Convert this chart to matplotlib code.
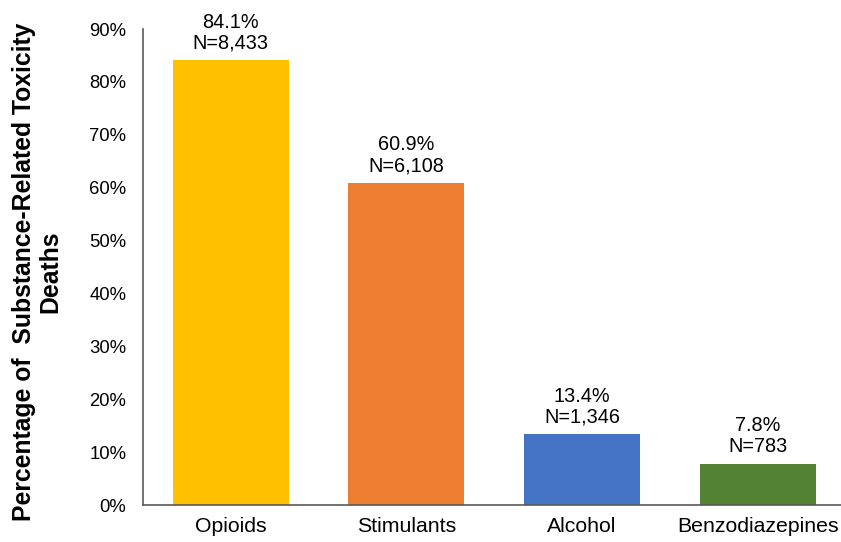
import matplotlib
matplotlib.use("Agg")
import matplotlib.pyplot as plt
from matplotlib.ticker import FuncFormatter

plt.rcParams['font.family'] = ['Liberation Sans', 'DejaVu Sans']

categories = ['Opioids', 'Stimulants', 'Alcohol', 'Benzodiazepines']
pct = [84.1, 60.9, 13.4, 7.8]
counts = ['8,433', '6,108', '1,346', '783']
colors = ['#FFC000', '#ED7D31', '#4472C4', '#548235']

fig = plt.figure(figsize=(8.41, 5.42), dpi=100)
ax = fig.add_axes([143/841, 37/542, 1 - 143/841, 476/542])

x = range(len(categories))
bars = ax.bar(x, pct, width=0.66, color=colors)

for b, p, n in zip(bars, pct, counts):
    ax.annotate(f'{p}%\nN={n}', (b.get_x() + b.get_width()/2, b.get_height()),
                xytext=(0, 5.5), textcoords='offset points',
                ha='center', va='bottom', fontsize=14.3, linespacing=1.12)

ax.set_xlim(-0.5, 3.475)
ax.set_ylim(0, 90)
ax.set_yticks(range(0, 91, 10))
ax.yaxis.set_major_formatter(FuncFormatter(lambda v, _: f'{int(v)}%'))
ax.set_xticks(list(x))
ax.set_xticklabels(categories, fontsize=15.3)
ax.tick_params(axis='y', labelsize=13.3, length=0, pad=12)
ax.tick_params(axis='x', length=0, pad=9)

for s in ['top', 'right']:
    ax.spines[s].set_visible(False)
for s in ['left', 'bottom']:
    ax.spines[s].set_color('#595959')
    ax.spines[s].set_linewidth(1.2)

ax.set_ylabel('Percentage of  Substance-Related Toxicity\nDeaths',
              fontsize=17.8, fontweight='bold', linespacing=1.12,
              va='center', ha='center')
ax.yaxis.set_label_coords(-0.152, 0.49)

fig.savefig('out.png', dpi=100)
